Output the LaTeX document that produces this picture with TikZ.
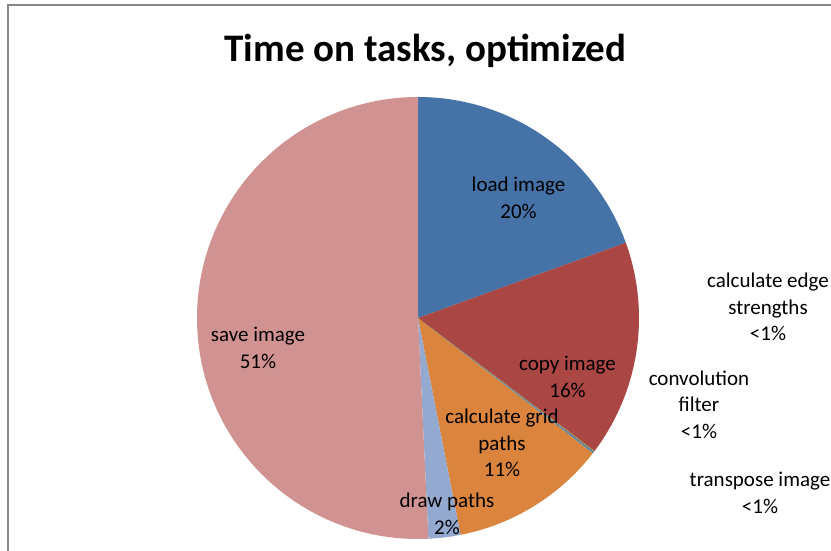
\documentclass[tikz,border=0pt]{standalone}
\usepackage{fontspec}
\setmainfont{Carlito}
\definecolor{cload}{HTML}{4572A7}
\definecolor{ccopy}{HTML}{AA4643}
\definecolor{cedge}{HTML}{89A54E}
\definecolor{cconv}{HTML}{71588F}
\definecolor{ctrans}{HTML}{4198AF}
\definecolor{cgrid}{HTML}{DB843D}
\definecolor{cdraw}{HTML}{93A9CF}
\definecolor{csave}{HTML}{D19392}
\definecolor{cframe}{HTML}{878787}
\tikzset{
  lbl/.style={align=center, inner sep=0pt, text=black, font=\fontsize{21}{26.5}\selectfont},
  ttl/.style={inner sep=0pt, text=black, font=\fontsize{39}{44}\selectfont\bfseries},
}
\newcommand{\pieslice}[3]{\fill[#3] (418,233) -- ++(#1:221) arc[start angle=#1, end angle=#2, radius=221] -- cycle;}
\begin{document}
\begin{tikzpicture}[x=1pt,y=1pt]
\useasboundingbox (0,0) rectangle (831,551);
\clip (0,0) rectangle (831,551);
\fill[white] (0,0) rectangle (831,551);
\draw[cframe, line width=2pt] (7.5,0) -- (7.5,545.5) -- (832,545.5);
\pieslice{90}{19.9}{cload}
\pieslice{19.9}{-37.0}{ccopy}
\pieslice{-37.0}{-37.25}{cedge}
\pieslice{-37.25}{-37.5}{cconv}
\pieslice{-37.5}{-37.75}{ctrans}
\pieslice{-37.75}{-78.9}{cgrid}
\pieslice{-78.9}{-87.3}{cdraw}
\pieslice{-87.3}{-270}{csave}
\node[ttl, anchor=base] (title) at (425.5,489) {Time on tasks, optimized};
\node[lbl] (load) at (518.5,353) {load image\\20\%};
\node[lbl] (save) at (258,203) {save image\\51\%};
\node[lbl] (copy) at (567.5,174) {copy image\\16\%};
\node[lbl] (grid) at (502,108) {calculate grid\\paths\\11\%};
\node[lbl] (draw) at (447,37) {draw paths\\2\%};
\node[lbl] (edge) at (768,244) {calculate edge\\strengths\\<1\%};
\node[lbl] (conv) at (699,146.5) {convolution\\filter\\<1\%};
\node[lbl] (trans) at (760,58) {transpose image\\<1\%};
\end{tikzpicture}
\end{document}
